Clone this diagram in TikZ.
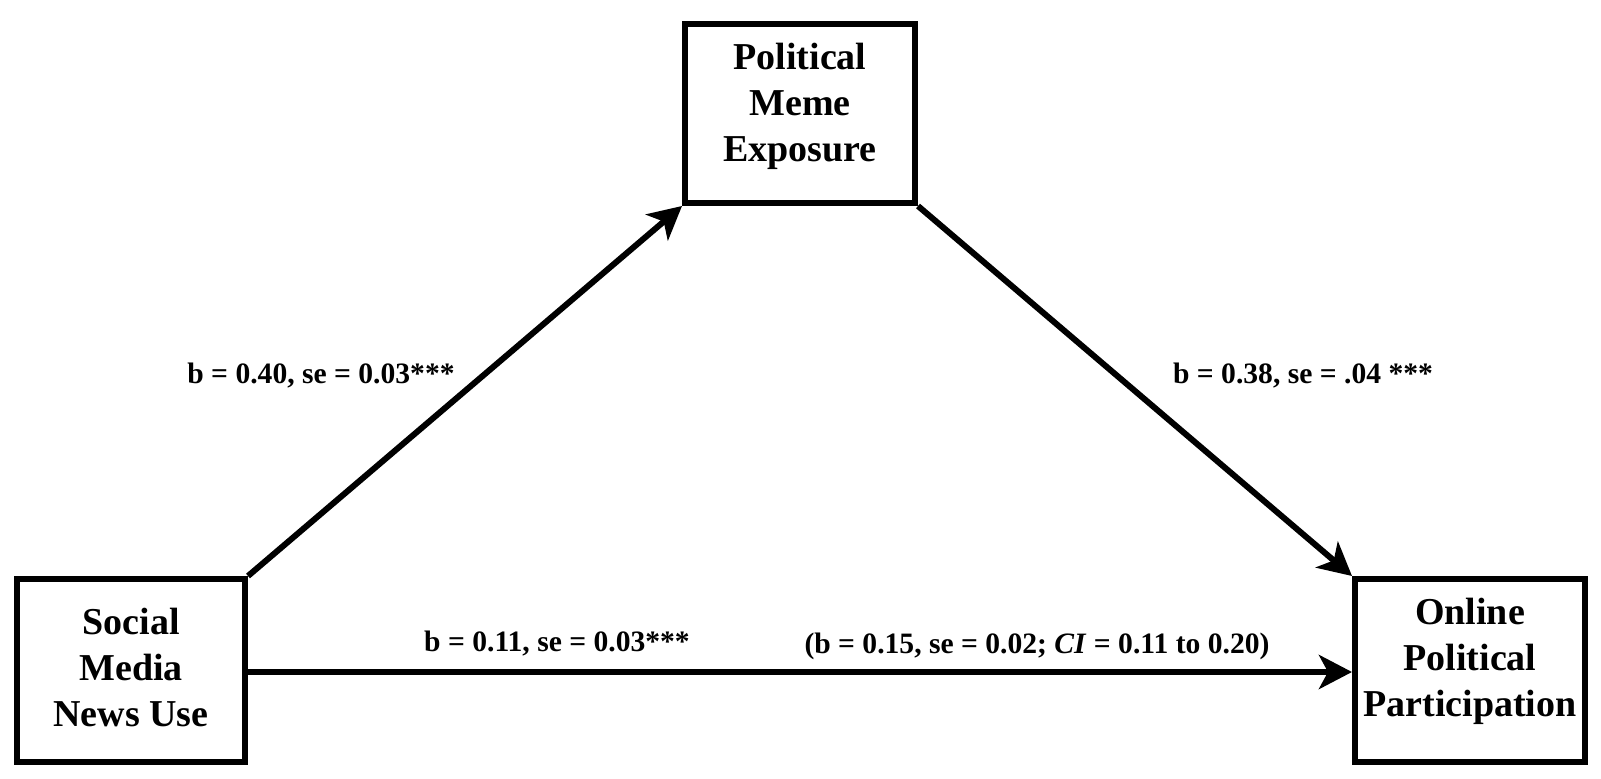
\documentclass[tikz,border=0pt]{standalone}
\usepackage{fontspec}
\setmainfont{Liberation Serif}
\usetikzlibrary{arrows.meta}
\begin{document}
\begin{tikzpicture}[x=1pt,y=-1pt,
  box/.style={draw, line width=6pt, inner sep=0pt, rectangle},
  boxtext/.style={align=center, inner sep=0pt, font=\fontsize{38}{46}\selectfont\bfseries},
  lab/.style={inner sep=0pt, font=\fontsize{29.6}{34}\selectfont\bfseries},
  conn/.style={line width=6pt, -{Stealth[length=33pt,width=34pt,inset=9pt]}}]
\useasboundingbox[fill=white] (0,0) rectangle (1601,779);
\node[box, minimum width=230pt, minimum height=179pt] (pme) at (800,113.5) {};
\node[box, minimum width=228pt, minimum height=183pt] (snu) at (131,670.5) {};
\node[box, minimum width=230pt, minimum height=183pt] (opp) at (1470,670.5) {};
\node[boxtext] (pmet) at (800,106) {Political\\Meme\\Exposure};
\node[boxtext] (snut) at (131,667) {Social\\Media\\News Use};
\node[boxtext] (oppt) at (1470,661) {Online\\Political\\Participation};
\draw[conn] (snu.north east) -- (pme.south west);
\draw[conn] (pme.south east) -- (opp.north west);
\draw[conn] ([yshift=-1.5pt]snu.east) -- ([yshift=-1.5pt]opp.west);
\node[lab] (l1) at (321,376) {b = 0.40, se = 0.03***};
\node[lab] (l2) at (1303,376) {b = 0.38, se = .04 ***};
\node[lab] (l3) at (557,644) {b = 0.11, se = 0.03***};
\node[lab] (l4) at (1037,646) {(b = 0.15, se = 0.02; \textit{CI} = 0.11 to 0.20)};
\end{tikzpicture}
\end{document}
